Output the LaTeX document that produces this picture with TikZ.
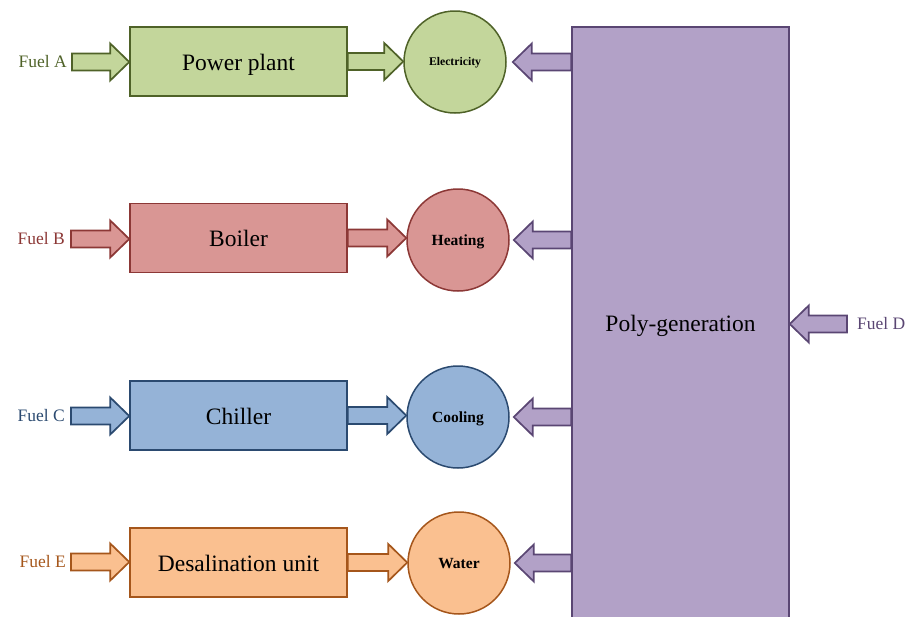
\documentclass[tikz,border=0pt]{standalone}
\usepackage{fontspec}
\setmainfont{Liberation Serif}
\usetikzlibrary{calc}
\definecolor{gfill}{HTML}{C3D69B}\definecolor{gline}{HTML}{4F6228}
\definecolor{rfill}{HTML}{D99694}\definecolor{rline}{HTML}{8C3836}
\definecolor{bfill}{HTML}{95B3D7}\definecolor{bline}{HTML}{2B4A70}
\definecolor{ofill}{HTML}{FAC090}\definecolor{oline}{HTML}{A5561B}
\definecolor{pfill}{HTML}{B2A1C7}\definecolor{pline}{HTML}{5A4673}
\newcommand\blockarrow[3]{%
  \path[#3] let \p1=(#1), \p2=(#2), \p3=($(#2)!19pt!(#1)$) in
   (\x1,\y1+8.5pt) -- (\x3,\y1+8.5pt) -- (\x3,\y1+18.5pt) -- (\x2,\y1)
   -- (\x3,\y1-18.5pt) -- (\x3,\y1-8.5pt) -- (\x1,\y1-8.5pt) -- cycle;}
\tikzset{
  box/.style={draw, line width=1.5pt, minimum width=217pt, minimum height=69pt, inner sep=0pt,
    font=\fontsize{23.5}{28}\selectfont, text height=19pt, text depth=2pt},
  circ/.style={circle, draw, line width=1.5pt, minimum size=102pt, inner sep=0pt,
    font=\bfseries\fontsize{15.5}{18}\selectfont, text height=12.5pt, text depth=2.3pt},
  fuel/.style={inner sep=0pt, font=\fontsize{17.5}{21}\selectfont, text height=13.6pt, text depth=2pt},
  arr/.style={line width=1.7pt, line join=miter},
  garr/.style={arr, draw=gline, fill=gfill},
  rarr/.style={arr, draw=rline, fill=rfill},
  barr/.style={arr, draw=bline, fill=bfill},
  oarr/.style={arr, draw=oline, fill=ofill},
  parr/.style={arr, draw=pline, fill=pfill}
}
\begin{document}
\begin{tikzpicture}[x=1pt, y=-1pt]
\useasboundingbox (0,0) rectangle (907,616);
% boxes
\node[box, draw=gline, fill=gfill] (pp) at (238.5,61.5) {Power plant};
\node[box, draw=rline, fill=rfill] (boiler) at (238.5,238) {Boiler};
\node[box, draw=bline, fill=bfill] (chiller) at (238.5,415.5) {Chiller};
\node[box, draw=oline, fill=ofill] (desal) at (238.5,562.5) {Desalination unit};
\node[box, draw=pline, fill=pfill, minimum height=592pt] (poly) at (680.5,323) {Poly-generation};
% circles
\node[circ, draw=gline, fill=gfill, font=\bfseries\fontsize{11.7}{14}\selectfont, text height=9.8pt, text depth=2pt] (elec) at (455,62) {Electricity};
\node[circ, draw=rline, fill=rfill] (heat) at (458,240) {Heating};
\node[circ, draw=bline, fill=bfill] (cool) at (458,417) {Cooling};
\node[circ, draw=oline, fill=ofill] (water) at (459,563) {Water};
% fuel labels
\node[fuel, text=gline, anchor=east] (fa) at (67,62) {Fuel A};
\node[fuel, text=rline, anchor=east] (fb) at (65,239) {Fuel B};
\node[fuel, text=bline, anchor=east] (fc) at (65,416) {Fuel C};
\node[fuel, text=oline, anchor=east] (fe) at (66,562) {Fuel E};
\node[fuel, text=pline, anchor=west] (fd) at (857,324) {Fuel D};
% fuel arrows
\blockarrow{[xshift=5pt]fa.east}{pp.west}{garr}
\blockarrow{[xshift=6pt]fb.east}{boiler.west}{rarr}
\blockarrow{[xshift=6pt]fc.east}{chiller.west}{barr}
\blockarrow{[xshift=5pt]fe.east}{desal.west}{oarr}
\blockarrow{[xshift=-10pt]fd.west}{poly.east}{parr}
% box to circle
\blockarrow{pp.east}{elec.west}{garr}
\blockarrow{boiler.east}{heat.west}{rarr}
\blockarrow{chiller.east}{cool.west}{barr}
\blockarrow{desal.east}{water.west}{oarr}
% poly to circles
\blockarrow{poly.west |- elec}{[xshift=6pt]elec.east}{parr}
\blockarrow{poly.west |- heat}{[xshift=4pt]heat.east}{parr}
\blockarrow{poly.west |- cool}{[xshift=4pt]cool.east}{parr}
\blockarrow{poly.west |- water}{[xshift=4pt]water.east}{parr}
\end{tikzpicture}
\end{document}
